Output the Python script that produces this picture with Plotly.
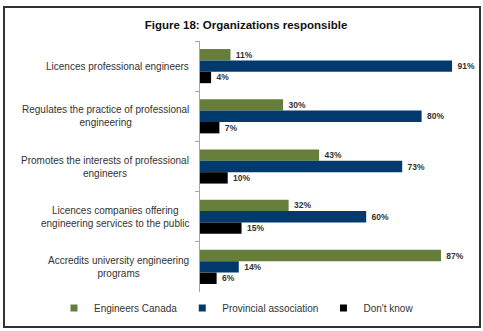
import plotly.graph_objects as go

categories = [
    "Licences professional engineers",
    "Regulates the practice of professional<br>engineering",
    "Promotes the interests of professional<br>engineers",
    "Licences companies offering<br>engineering services to the public",
    "Accredits university engineering<br>programs",
]
engineers_canada = [11, 30, 43, 32, 87]
provincial_association = [91, 80, 73, 60, 14]
dont_know = [4, 7, 10, 15, 6]

series = [
    ("Engineers Canada", engineers_canada, "#677E3A"),
    ("Provincial association", provincial_association, "#023A6E"),
    ("Don't know", dont_know, "#000000"),
]

fig = go.Figure()
for name, vals, color in series:
    fig.add_trace(go.Bar(
        y=categories, x=vals, name=name, orientation="h",
        marker=dict(color=color, line=dict(width=0)),
        text=[f"\u00a0<b>{v}%</b>" for v in vals], textposition="outside",
        textfont=dict(family="Liberation Sans", size=8.5, color="#333333"),
        cliponaxis=False, showlegend=False,
    ))
    # small square swatch for the legend
    fig.add_trace(go.Scatter(
        x=[None], y=[None], mode="markers", name=name,
        marker=dict(symbol="square", size=7, color=color),
        showlegend=True,
    ))

W, H = 483, 331
L, R, T, B = 200, 6, 41, 39
pw, ph = W - L - R, H - T - B

def px(x):
    return (x - L) / pw

def py(y):
    return (H - B - y) / ph

# category labels, centred line by line and right-aligned as a block
label_annotations = [
    dict(text=c, xref="paper", yref="y", x=px(191), y=c,
         xanchor="right", yanchor="middle", align="center",
         showarrow=False, font=dict(size=10, color="#333333"))
    for c in categories
]

fig.update_layout(
    width=W, height=H,
    margin=dict(l=L, r=R, t=T, b=B, autoexpand=False),
    paper_bgcolor="white", plot_bgcolor="white",
    barmode="group", bargap=0.32, bargroupgap=0,
    font=dict(family="Liberation Sans", size=10, color="#333333"),
    title=dict(text="<b>Figure 18: Organizations responsible</b>",
               x=246 / W, xanchor="center", y=1 - 25 / H, yanchor="middle",
               font=dict(size=11.5, color="#111111")),
    xaxis=dict(range=[0, 100], showgrid=False, showticklabels=False,
               zeroline=False, showline=False),
    yaxis=dict(autorange="reversed", showgrid=False, showline=True,
               linecolor="#A6A6A6", linewidth=1, ticks="outside",
               tickson="boundaries", ticklen=4, tickcolor="#A6A6A6",
               showticklabels=False),
    legend=dict(orientation="h", xref="paper", yref="paper",
                x=px(54), xanchor="left", y=py(308), yanchor="middle",
                font=dict(size=10), itemwidth=30,
                traceorder="normal"),
    showlegend=True,
    annotations=label_annotations,
    shapes=[dict(type="rect", xref="paper", yref="paper",
                 x0=px(4), x1=px(480), y0=py(327), y1=py(7),
                 line=dict(color="#333333", width=2))],
)

fig.write_html("out.html")
